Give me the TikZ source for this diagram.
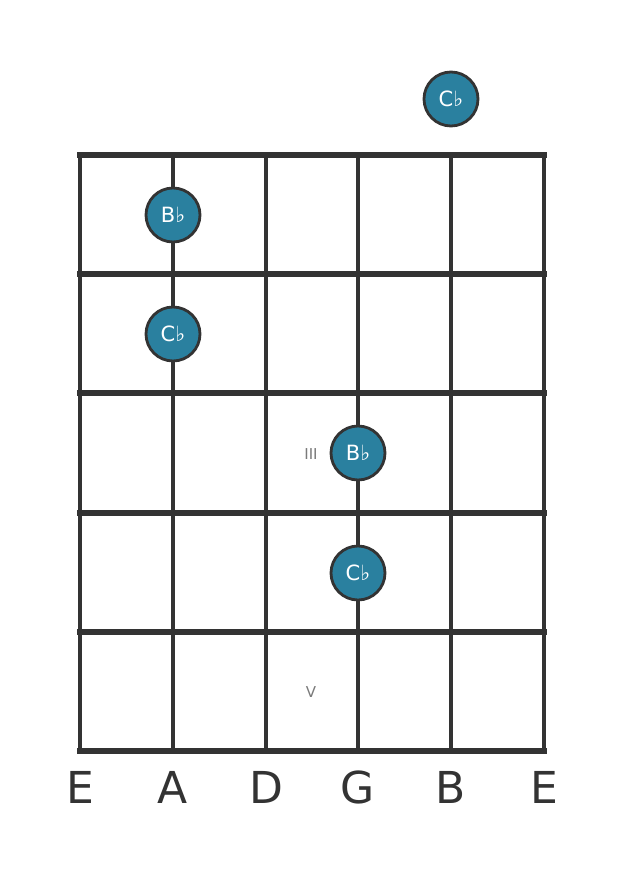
\documentclass[tikz,border=0pt]{standalone}
\usepackage{fontspec}
\setmainfont{DejaVu Sans}
\definecolor{gridc}{HTML}{333333}
\definecolor{dotc}{HTML}{2A809F}
\definecolor{numc}{HTML}{7A7A7A}
\begin{document}
\begin{tikzpicture}[x=1pt,y=-1pt,
  fretline/.style={draw=gridc,line width=5.5pt},
  stringline/.style={draw=gridc,line width=3.5pt},
  notedot/.style={circle,fill=dotc,draw=gridc,line width=2.8pt,minimum size=54pt,inner sep=0pt,text=white,font=\fontsize{21}{21}\selectfont},
  strlabel/.style={text=gridc,font=\fontsize{44}{44}\selectfont,anchor=center},
  fretnum/.style={text=numc,font=\fontsize{15}{15}\selectfont}]
\useasboundingbox (0,0) rectangle (626,873);
\fill[white] (0,0) rectangle (626,873);
% strings
\foreach \i/\x in {0/80,1/173,2/266,3/358,4/451,5/544}{
  \coordinate (st\i) at (\x,155);
  \coordinate (sb\i) at (\x,751);
  \draw[stringline] (st\i) -- (sb\i);
}
% frets
\foreach \j/\y in {0/155,1/274,2/393,3/513,4/632,5/751}{
  \coordinate (fl\j) at (80,\y);
  \coordinate (fr\j) at (544,\y);
  \draw[fretline,line cap=rect] (fl\j) -- (fr\j);
}
% string labels
\node[strlabel] (l0) at (80,787) {E};
\node[strlabel] (l1) at (173,787) {A};
\node[strlabel] (l2) at (266,787) {D};
\node[strlabel] (l3) at (358,787) {G};
\node[strlabel] (l4) at (451,787) {B};
\node[strlabel] (l5) at (544,787) {E};
% fret numbers
\node[fretnum] (n3) at (311,454) {III};
\node[fretnum] (n5) at (311,692) {V};
% notes
\node[notedot] (d0) at (451,99) {C♭};
\node[notedot] (d1) at (173,215) {B♭};
\node[notedot] (d2) at (173,334) {C♭};
\node[notedot] (d3) at (358,453) {B♭};
\node[notedot] (d4) at (358,573) {C♭};
\end{tikzpicture}
\end{document}
